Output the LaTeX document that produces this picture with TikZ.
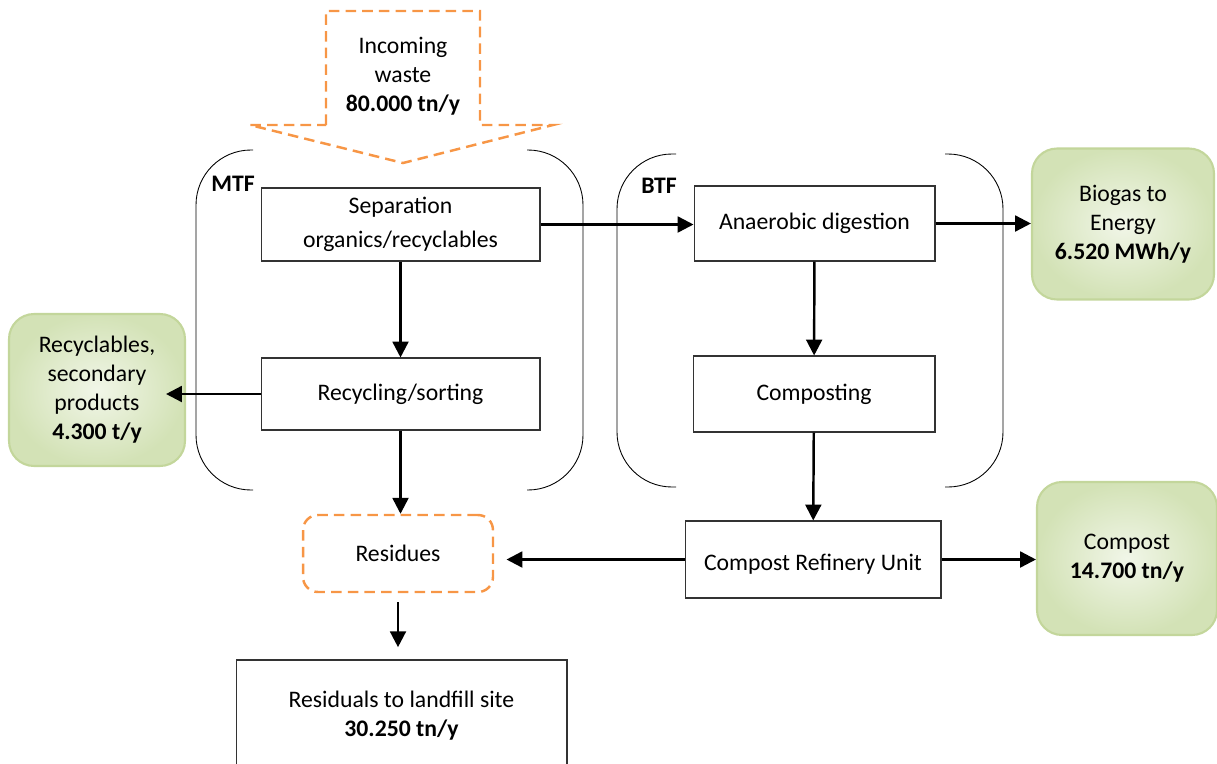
\documentclass[tikz,border=0pt]{standalone}
\usepackage{fontspec}
\setmainfont{Carlito}
\usepackage{xcolor}
\usepackage{tikz}
\usetikzlibrary{arrows.meta, positioning, calc}

\definecolor{wasteorange}{HTML}{F79646}
\definecolor{leaflight}{HTML}{F1F6E8}
\definecolor{leafmid}{HTML}{D3E2B6}
\definecolor{leafdark}{HTML}{C3D69B}

\begin{document}
\begin{tikzpicture}[
          x=0.02cm, y=-0.02cm,
          every node/.style={font=\fontsize{13.5}{16.5}\selectfont, align=center, inner sep=2pt},
          box/.style={rectangle, draw=black!80, line width=0.6pt, fill=white},
          greenbox/.style={rectangle, draw=leafdark, line width=1.2pt, rounded corners=0.5cm,
                           inner color=leaflight, outer color=leafmid},
          dashbox/.style={rectangle, draw=wasteorange, line width=1.4pt, dash pattern=on 6pt off 3.5pt,
                          rounded corners=0.3cm},
          flow/.style={-{Triangle[length=9pt,width=9pt]}, line width=1.4pt},
          bracket/.style={line width=0.5pt, rounded corners=1.1cm},
          tag/.style={font=\fontsize{13.5}{16.5}\selectfont\bfseries}
        ]
          \clip (0,0) rectangle (1217,764);

          \draw[bracket] (253,150) -- (196,150) -- (196,490) -- (253,490);
          \draw[bracket] (527,150) -- (583,150) -- (583,490) -- (527,490);
          \draw[bracket] (676,154) -- (617,154) -- (617,487) -- (676,487);
          \draw[bracket] (945,154) -- (1003,154) -- (1003,487) -- (945,487);
          \node[tag] (mtf) at (233,184) {MTF};
          \node[tag] (btf) at (659,186) {BTF};

          \draw[wasteorange, line width=1.4pt, dash pattern=on 6pt off 3.5pt]
            (326,125) -- (326,11) -- (480,11) -- (480,125) -- (553,125) -- (403,163) -- (250,125) -- cycle;
          \node (incoming) at (403,76) {Incoming\\waste\\\textbf{80.000 tn/y}};

          \node[box, minimum width=5.58cm, minimum height=1.46cm] (sep) at (400.5,224.5) {Separation\\[3pt]organics/recyclables};
          \node[box, minimum width=5.58cm, minimum height=1.44cm] (rec) at (400.5,394) {Recycling/sorting};
          \node[box, minimum width=4.82cm, minimum height=1.5cm] (anae) at (814.5,223.5) {Anaerobic digestion};
          \node[box, minimum width=4.84cm, minimum height=1.52cm] (comp) at (814,394) {Composting};
          \node[box, minimum width=5.12cm, minimum height=1.54cm] (refin) at (813,559.5) {\raisebox{-3pt}[0.7em][0.2em]{Compost Refinery Unit}};
          \node[dashbox, minimum width=3.8cm, minimum height=1.54cm] (resid) at (398,553.5) {Residues};
          \node[box, minimum width=6.62cm, minimum height=2.24cm] (land) at (401.5,716) {Residuals to landfill site\\\textbf{30.250 tn/y}};

          \node[greenbox, minimum width=3.64cm, minimum height=3.02cm] (biogas) at (1123,224) {Biogas to\\Energy\\\textbf{6.520 MWh/y}};
          \node[greenbox, minimum width=3.52cm, minimum height=3.04cm] (recyc) at (97,390) {Recyclables,\\secondary\\products\\\textbf{4.300 t/y}};
          \node[greenbox, minimum width=3.6cm, minimum height=3.06cm] (compost) at (1127,558.5) {Compost\\\textbf{14.700 tn/y}};

          \draw[flow] (sep) -- (rec);
          \draw[flow] (rec.south) -- (rec.south |- resid.north);
          \draw[flow, shorten <=5pt, shorten >=7pt] (resid.south) -- (resid.south |- land.north);
          \draw[flow] (sep.east) -- (sep.east -| anae.west);
          \draw[flow] (anae.east) -- (anae.east -| biogas.west);
          \draw[flow] (anae) -- (comp);
          \draw[flow] (comp) -- (refin);
          \draw[flow, shorten >=7pt] (refin.west) -- (refin.west -| resid.east);
          \draw[flow] (refin.east) -- (refin.east -| compost.west);
          \draw[flow, shorten >=-0.4cm] (rec.west) -- (rec.west -| recyc.east);
        \end{tikzpicture}
\end{document}
